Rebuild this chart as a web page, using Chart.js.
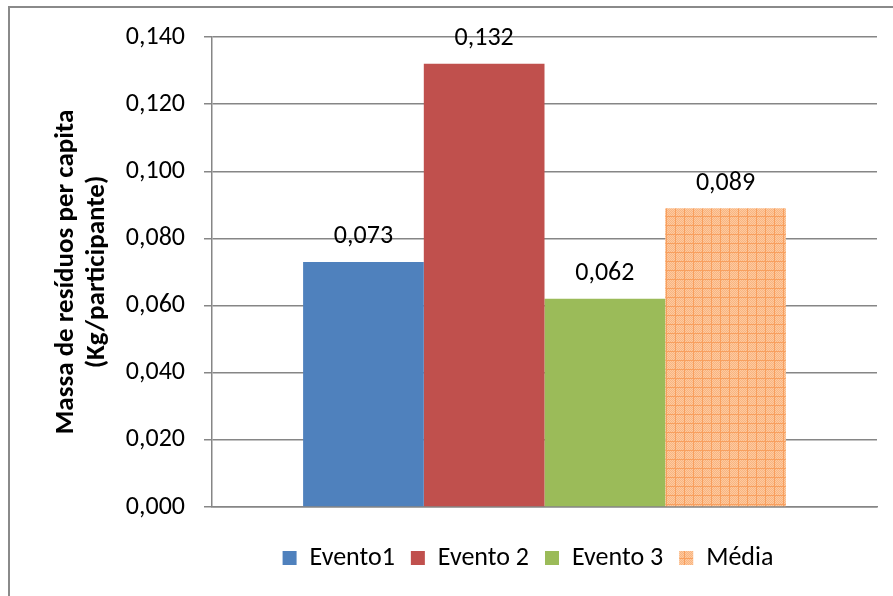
<!DOCTYPE html>
<html>
<head>
<meta charset="utf-8">
<title>Massa de resíduos per capita</title>
<script src="https://cdn.jsdelivr.net/npm/chart.js@4/dist/chart.umd.min.js"></script>
<style>
  html, body { margin: 0; padding: 0; background: #ffffff; }
  #wrap { position: relative; width: 893px; height: 596px; }
</style>
</head>
<body>
<div id="wrap"><canvas id="chart" width="893" height="596"></canvas></div>
<script>
// Data
const categories = ['Resíduos'];
const seriesNames = ['Evento1', 'Evento 2', 'Evento 3', 'Média'];
const seriesValues = [0.073, 0.132, 0.062, 0.089];
const seriesColors = ['#4F81BD', '#C0504D', '#9BBB59', null];
const yTicks = { min: 0, max: 0.14, step: 0.02 };
const yTitle = ['Massa de resíduos per capita', '(Kg/participante)'];

const FONT = 'Carlito, Lato, "Open Sans", sans-serif';
const fmt = v => v.toFixed(3).replace('.', ',');

// Checkered orange fill for the average bar
function makeGridPattern() {
  const s = 9;
  const c = document.createElement('canvas');
  c.width = s; c.height = s;
  const g = c.getContext('2d');
  g.fillStyle = '#FCCAA2';
  g.fillRect(0, 0, s, s);
  g.fillStyle = '#FAB47E';
  for (let y = 0; y < s; y++) {
    for (let x = 0; x < s; x++) {
      if ((x + y) % 2 === 0) g.fillRect(x, y, 1, 1);
    }
  }
  g.fillStyle = '#F89F5E';
  g.fillRect(0, 0, s, 1);
  g.fillRect(0, 0, 1, s);
  return g.createPattern(c, 'repeat');
}
const ctx = document.getElementById('chart').getContext('2d');
const avgPattern = makeGridPattern();

const datasets = seriesNames.map((name, i) => ({
  label: name,
  data: [seriesValues[i]],
  backgroundColor: seriesColors[i] || avgPattern,
  borderWidth: 0,
  categoryPercentage: 0.726,
  barPercentage: 1.0
}));

// Value labels above each bar
const valueLabels = {
  id: 'valueLabels',
  afterDatasetsDraw(chart) {
    const c = chart.ctx;
    c.save();
    c.fillStyle = '#000000';
    c.font = '26px ' + FONT;
    c.textAlign = 'center';
    c.textBaseline = 'alphabetic';
    chart.data.datasets.forEach((ds, i) => {
      const meta = chart.getDatasetMeta(i);
      meta.data.forEach((bar, j) => {
        c.fillText(fmt(ds.data[j]), bar.x, bar.y - 18.5);
      });
    });
    c.restore();
  }
};

// Outer frame line (left and top)
const frame = {
  id: 'frame',
  beforeDraw(chart) {
    const c = chart.ctx;
    c.save();
    c.strokeStyle = '#8A8A8A';
    c.lineWidth = 2;
    c.beginPath();
    c.moveTo(9, chart.height + 5);
    c.lineTo(9, 7);
    c.lineTo(chart.width + 5, 7);
    c.stroke();
    c.restore();
  }
};

// Centre the legend row under the plot group
const legendPlacement = {
  id: 'legendPlacement',
  afterLayout(chart) {
    const lg = chart.legend;
    const centre = 528;
    const half = 320;
    lg.left = centre - half;
    lg.right = centre + half;
    lg.width = half * 2;
  }
};

new Chart(ctx, {
  type: 'bar',
  data: { labels: categories, datasets },
  plugins: [frame, valueLabels, legendPlacement],
  options: {
    responsive: false,
    animation: false,
    layout: { padding: { left: 0, right: 16, top: 37, bottom: 15 } },
    plugins: {
      tooltip: { enabled: false },
      legend: {
        position: 'bottom',
        labels: {
          boxWidth: 14,
          boxHeight: 14,
          padding: 16,
          color: '#000000',
          font: { family: FONT, size: 26 }
        }
      }
    },
    scales: {
      x: {
        grid: { display: false, drawTicks: false },
        border: { display: true, color: '#868686', width: 1.5 },
        ticks: { display: false },
        afterFit(scale) { scale.height = 22; }
      },
      y: {
        min: yTicks.min,
        max: yTicks.max,
        grid: { color: '#868686', lineWidth: 1.5, tickLength: 8, drawTicks: true },
        border: { display: true, color: '#868686', width: 1.5 },
        ticks: {
          stepSize: yTicks.step,
          padding: 19,
          color: '#000000',
          font: { family: FONT, size: 26 },
          callback: v => fmt(v)
        },
        title: {
          display: true,
          text: yTitle,
          color: '#000000',
          font: { family: FONT, size: 27, weight: 'bold', lineHeight: 1.15 },
          padding: { top: 50.5, bottom: 0 }
        },
        afterFit(scale) { scale.width = 212; }
      }
    }
  }
});
</script>
</body>
</html>
